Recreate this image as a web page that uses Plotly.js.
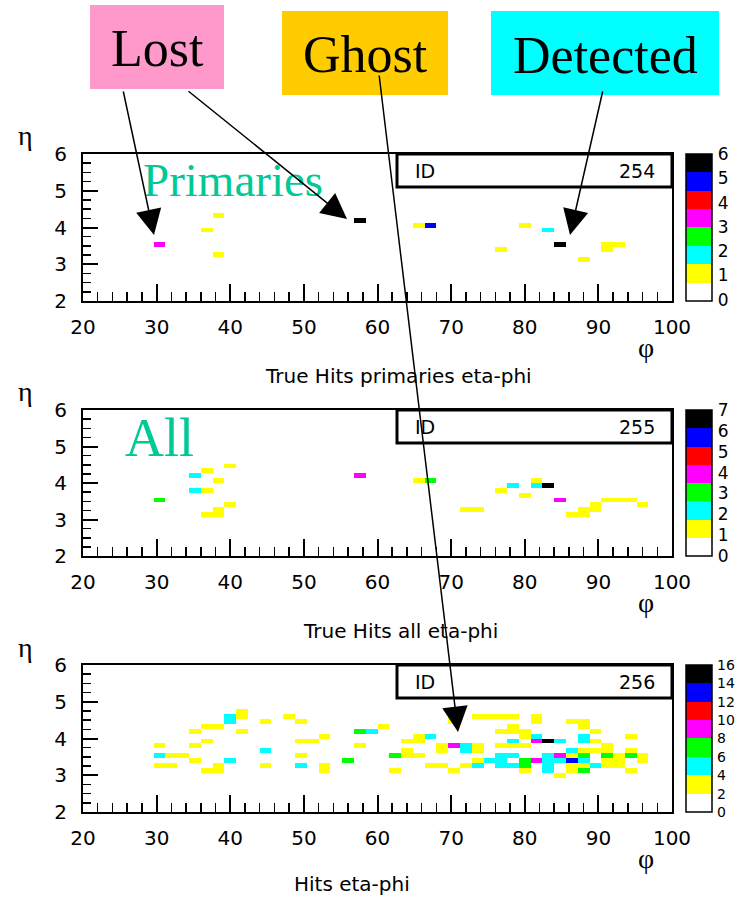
<!DOCTYPE html>
<html><head><meta charset="utf-8">
<script src="https://cdn.plot.ly/plotly-3.0.1.min.js"></script>
<style>html,body{margin:0;padding:0;background:#fff;}#chart{width:735px;height:900px;}</style>
</head><body><div id="chart"></div>
<script>
const W = 735, H = 900;

// ---------- data: cells (phi, eta, entries) ----------
// Panel 1: True Hits primaries eta-phi (ID 254)
const p1Phi   = [30.4, 38.4, 36.8, 38.4, 57.6, 65.6, 67.2, 80.0, 83.2, 84.8, 76.8, 88.0, 91.2, 91.2, 92.8];
const p1Eta   = [3.53, 4.33, 3.93, 3.27, 4.20, 4.07, 4.07, 4.07, 3.93, 3.53, 3.40, 3.13, 3.40, 3.53, 3.53];
const p1Count = [3,    1,    1,    1,    6,    1,    5,    1,    2,    6,    1,    1,    1,    1,    1];

// Panel 2: True Hits all eta-phi (ID 255)
const p2Phi   = [35.2, 36.8, 40.0, 38.4, 35.2, 36.8, 30.4, 40.0, 38.4, 38.4, 36.8, 57.6, 65.6, 67.2, 72.0, 73.6,
                 76.8, 78.4, 80.0, 81.6, 81.6, 83.2, 84.8, 86.4, 88.0, 88.0, 89.6, 89.6, 91.2, 92.8, 94.4, 96.0];
const p2Eta   = [4.20, 4.33, 4.47, 4.07, 3.80, 3.80, 3.53, 3.40, 3.27, 3.13, 3.13, 4.20, 4.07, 4.07, 3.27, 3.27,
                 3.80, 3.93, 3.67, 4.07, 3.93, 3.93, 3.53, 3.13, 3.13, 3.27, 3.27, 3.40, 3.53, 3.53, 3.53, 3.40];
const p2Count = [2, 1, 1, 1, 2, 1, 3, 1, 1, 1, 1, 4, 1, 3, 1, 1,
                 1, 2, 1, 1, 2, 7, 4, 1, 1, 1, 1, 1, 1, 1, 1, 1];

// Panel 3: Hits eta-phi (ID 256)
const p3Phi = [
  41.6, 41.6, 40.0, 40.0, 44.8, 48.0, 49.6, 36.8, 38.4, 35.2, 41.6, 52.8, 36.8, 49.6, 51.2, 30.4,
  35.2, 44.8, 30.4, 32.0, 33.6, 49.6, 35.2, 40.0, 30.4, 32.0, 44.8, 49.6, 36.8, 38.4, 38.4, 52.8,
  52.8, 57.6, 59.2, 60.8, 57.6, 56.0, 62.4, 64.0, 64.0, 65.6, 64.0, 65.6, 65.6, 67.2, 62.4, 67.2,
  68.8, 68.8, 68.8, 70.4, 72.0, 72.0, 73.6, 73.6, 70.4, 72.0, 73.6, 73.6, 75.2, 76.8, 76.8, 76.8,
  70.4, 70.4, 73.6, 75.2, 76.8, 78.4, 76.8, 81.6, 81.6, 86.4, 88.0, 88.0, 78.4, 78.4, 80.0, 80.0,
  81.6, 89.6, 94.4, 78.4, 81.6, 83.2, 84.8, 88.0, 88.0, 89.6, 76.8, 78.4, 80.0, 86.4, 88.0, 89.6,
  91.2, 91.2, 94.4, 78.4, 80.0, 80.0, 84.8, 86.4, 88.0, 91.2, 92.8, 92.8, 92.8, 94.4, 96.0, 96.0,
  81.6, 83.2, 83.2, 83.2, 83.2, 84.8, 86.4, 88.0, 91.2, 91.2, 78.4, 89.6, 86.4, 86.4, 88.0, 88.0,
  80.0, 94.4, 84.8];
const p3Eta = [
  4.73, 4.60, 4.60, 4.47, 4.47, 4.60, 4.47, 4.33, 4.33, 4.20, 4.20, 4.07, 3.93, 3.93, 3.93, 3.80,
  3.80, 3.67, 3.53, 3.53, 3.53, 3.53, 3.40, 3.40, 3.27, 3.27, 3.27, 3.27, 3.13, 3.13, 3.27, 3.27,
  3.13, 4.20, 4.20, 4.33, 3.80, 3.40, 3.53, 3.67, 3.53, 3.53, 3.93, 3.93, 4.07, 4.07, 3.13, 3.27,
  3.27, 3.80, 3.67, 3.80, 3.80, 3.67, 3.80, 3.67, 3.13, 3.27, 3.40, 3.27, 3.40, 3.53, 3.40, 3.27,
  4.60, 4.47, 4.60, 4.60, 4.60, 4.60, 4.20, 4.60, 4.47, 4.47, 4.47, 4.33, 4.33, 4.20, 4.20, 4.07,
  4.07, 4.20, 4.07, 3.93, 3.93, 3.93, 3.93, 4.07, 3.93, 3.93, 3.80, 3.80, 3.80, 3.67, 3.67, 3.67,
  3.67, 3.80, 3.67, 3.53, 3.40, 3.27, 3.53, 3.53, 3.53, 3.53, 3.53, 3.40, 3.27, 3.53, 3.53, 3.40,
  3.40, 3.53, 3.40, 3.27, 3.13, 3.40, 3.40, 3.40, 3.40, 3.27, 3.27, 3.27, 3.27, 3.13, 3.27, 3.13,
  3.13, 3.13, 3.00];
const p3Count = [
  3, 3, 5, 5, 3, 3, 3, 3, 3, 3, 3, 3, 3, 3, 3, 3,
  3, 5, 5, 3, 3, 3, 3, 5, 3, 3, 3, 5, 3, 3, 3, 3,
  3, 7, 5, 3, 3, 7, 7, 3, 3, 3, 3, 3, 3, 5, 3, 3,
  3, 3, 3, 9, 5, 5, 3, 3, 3, 3, 3, 5, 5, 5, 5, 5,
  3, 3, 3, 3, 3, 3, 3, 3, 3, 3, 3, 3, 3, 3, 3, 3,
  5, 3, 3, 5, 9, 15, 5, 5, 5, 3, 3, 3, 3, 5, 3, 3,
  3, 3, 3, 5, 7, 7, 9, 3, 7, 7, 3, 3, 3, 7, 3, 3,
  9, 5, 5, 5, 5, 5, 13, 5, 3, 3, 5, 5, 3, 3, 3, 7,
  3, 3, 3];

// colour levels (8 boxes) and colour-bar labels
const levelColors = ['#ffffff', '#ffff00', '#00ffff', '#00ff00', '#ff00ff', '#ff0000', '#0000ff', '#000000'];
const p1Levels = [0, 1, 2, 3, 4, 5, 6];
const p2Levels = [0, 1, 2, 3, 4, 5, 6, 7];
const p3Levels = [0, 2, 4, 6, 8, 10, 12, 14, 16];
const histIds = ['254', '255', '256'];
const histTitles = ['True Hits primaries eta-phi', 'True Hits all eta-phi', 'Hits eta-phi'];
const xTicks = [20, 30, 40, 50, 60, 70, 80, 90, 100];
const yTicks = [2, 3, 4, 5, 6];

// ---------- helpers ----------
const px = v => v / W;
const py = v => 1 - v / H;
const frames = [{top: 154, bottom: 301}, {top: 410, bottom: 556}, {top: 665, bottom: 812}];
const L = 83, R = 672, CB0 = 686, CB1 = 712;

const scale = [];
levelColors.forEach((c, i) => { scale.push([i / 8, c]); scale.push([(i + 1) / 8, c]); });

const dj = 'DejaVu Sans, Liberation Sans, Arial, sans-serif';
const serif = 'Liberation Serif, Times New Roman, serif';

function cbar(f, levels, fs) {
  return {
    x: px(CB0), xanchor: 'left', xpad: 0,
    y: py(f.top), yanchor: 'top', ypad: 0,
    len: f.bottom - f.top, lenmode: 'pixels',
    thickness: CB1 - CB0, thicknessmode: 'pixels',
    outlinewidth: 1.5, outlinecolor: 'black', borderwidth: 0,
    tickvals: levels, ticktext: levels.map(String),
    ticks: 'outside', ticklen: 2, tickcolor: 'rgba(0,0,0,0)',
    tickfont: {family: dj, size: fs, color: 'black'}
  };
}

function hist(phi, eta, cnt, zmin, zmax, i, levels, fs) {
  return {
    type: 'histogram2d', x: phi, y: eta, z: cnt, histfunc: 'sum',
    xbins: {start: 20, end: 100, size: 1.6},
    ybins: {start: 2, end: 6, size: 4 / 30},
    colorscale: scale, zmin: zmin, zmax: zmax, zauto: false,
    xaxis: i === 0 ? 'x' : 'x' + (i + 1), yaxis: i === 0 ? 'y' : 'y' + (i + 1),
    colorbar: cbar(frames[i], levels, fs), hoverinfo: 'skip'
  };
}

const data = [
  hist(p1Phi, p1Eta, p1Count, -0.05, 6, 0, p1Levels, 17),
  hist(p2Phi, p2Eta, p2Count, 0, 7, 1, p2Levels, 17),
  hist(p3Phi, p3Eta, p3Count, 0, 16, 2, p3Levels, 14)
];

const layout = {
  width: W, height: H, margin: {l: 0, r: 0, t: 0, b: 0, pad: 0, autoexpand: false},
  paper_bgcolor: 'white', plot_bgcolor: 'white', showlegend: false,
  shapes: [], annotations: []
};

frames.forEach((f, i) => {
  const s = i === 0 ? '' : String(i + 1);
  layout['xaxis' + s] = {
    domain: [px(L), px(R)], anchor: 'y' + s, range: [20, 100],
    tickvals: xTicks, ticks: 'inside', ticklen: 17, tickwidth: 2, tickcolor: 'black',
    minor: {dtick: 2, tick0: 20, ticks: 'inside', ticklen: 9, tickwidth: 1.5, tickcolor: 'black'},
    showline: true, linewidth: 2, linecolor: 'black', mirror: true,
    showgrid: false, zeroline: false, ticklabelstandoff: 7, automargin: false,
    tickfont: {family: dj, size: 20, color: 'black'}, fixedrange: true
  };
  layout['yaxis' + s] = {
    domain: [py(f.bottom), py(f.top)], anchor: 'x' + s, range: [2, 6],
    tickvals: yTicks, ticks: 'inside', ticklen: 15, tickwidth: 2, tickcolor: 'black',
    minor: {dtick: 0.25, tick0: 2, ticks: 'inside', ticklen: 8, tickwidth: 1.5, tickcolor: 'black'},
    showline: true, linewidth: 2, linecolor: 'black', mirror: true,
    showgrid: false, zeroline: false, ticklabelstandoff: 10, automargin: false,
    tickfont: {family: dj, size: 20, color: 'black'}, fixedrange: true
  };
  // statistics box
  layout.shapes.push({type: 'rect', xref: 'paper', yref: 'paper',
    x0: px(397), x1: px(R), y0: py(f.top + 33), y1: py(f.top),
    line: {color: 'black', width: 3}, fillcolor: 'white'});
  layout.annotations.push({xref: 'paper', yref: 'paper', x: px(413), y: py(f.top + 17),
    xanchor: 'left', yanchor: 'middle', text: 'ID', showarrow: false,
    font: {family: dj, size: 19, color: 'black'}});
  layout.annotations.push({xref: 'paper', yref: 'paper', x: px(657), y: py(f.top + 17),
    xanchor: 'right', yanchor: 'middle', text: histIds[i], showarrow: false,
    font: {family: dj, size: 19, color: 'black'}});
  // separators between the colour boxes of the colour bar
  for (let k = 1; k < 8; k++) {
    const yy = f.top + (f.bottom - f.top) * k / 8;
    layout.shapes.push({type: 'line', xref: 'paper', yref: 'paper',
      x0: px(CB0), x1: px(CB1), y0: py(yy), y1: py(yy), line: {color: 'black', width: 1.2}});
  }
  // eta / phi labels
  layout.annotations.push({xref: 'paper', yref: 'paper', x: px(25), y: py(f.top - 18),
    xanchor: 'center', yanchor: 'middle', text: 'η', showarrow: false,
    font: {family: serif, size: 28, color: 'black'}});
  layout.annotations.push({xref: 'paper', yref: 'paper', x: px(646), y: py(f.bottom + 46),
    xanchor: 'center', yanchor: 'middle', text: 'φ', showarrow: false,
    font: {family: serif, size: 28, color: 'black'}});
});

// histogram titles under the frames
const titlePos = [[399, 376], [400, 631], [352, 884]];
histTitles.forEach((t, i) => {
  layout.annotations.push({xref: 'paper', yref: 'paper', x: px(titlePos[i][0]), y: py(titlePos[i][1]),
    xanchor: 'center', yanchor: 'middle', text: t, showarrow: false,
    font: {family: dj, size: 20, color: 'black'}});
});

// Primaries / All
layout.annotations.push({xref: 'paper', yref: 'paper', x: px(141), y: py(180), xanchor: 'left', yanchor: 'middle',
  text: 'Primaries', showarrow: false, font: {family: serif, size: 47, color: '#00c896'}});
layout.annotations.push({xref: 'paper', yref: 'paper', x: px(123), y: py(438), xanchor: 'left', yanchor: 'middle',
  text: 'All', showarrow: false, font: {family: serif, size: 54, color: '#00c896'}});

// label boxes
const boxes = [
  {t: 'Lost', x0: 90, x1: 224, y0: 5, y1: 89, c: '#ff99cc', ty: 48},
  {t: 'Ghost', x0: 282, x1: 448, y0: 11, y1: 95, c: '#ffcc00', ty: 54},
  {t: 'Detected', x0: 491, x1: 719, y0: 11, y1: 95, c: '#00ffff', ty: 56}
];
boxes.forEach(b => {
  layout.shapes.push({type: 'rect', xref: 'paper', yref: 'paper', x0: px(b.x0), x1: px(b.x1),
    y0: py(b.y1), y1: py(b.y0), line: {width: 0}, fillcolor: b.c});
  layout.annotations.push({xref: 'paper', yref: 'paper', x: px((b.x0 + b.x1) / 2), y: py(b.ty),
    xanchor: 'center', yanchor: 'middle', text: b.t, showarrow: false,
    font: {family: serif, size: 52, color: 'black'}});
});

// arrows: tip -> tail (page pixels)
const arrows = [
  [154, 235, 123, 90],
  [347, 219, 187, 90],
  [458, 732, 379, 74],
  [570, 235, 603, 90]
];
arrows.forEach(a => {
  layout.annotations.push({xref: 'paper', yref: 'paper', x: px(a[0]), y: py(a[1]),
    ax: a[2] - a[0], ay: a[3] - a[1], text: '', showarrow: true,
    arrowhead: 2, arrowsize: 3.4, arrowwidth: 1.5, arrowcolor: 'black', standoff: 0, startstandoff: 0});
});

Plotly.newPlot('chart', data, layout, {displayModeBar: false, staticPlot: true});
</script>
</body></html>
